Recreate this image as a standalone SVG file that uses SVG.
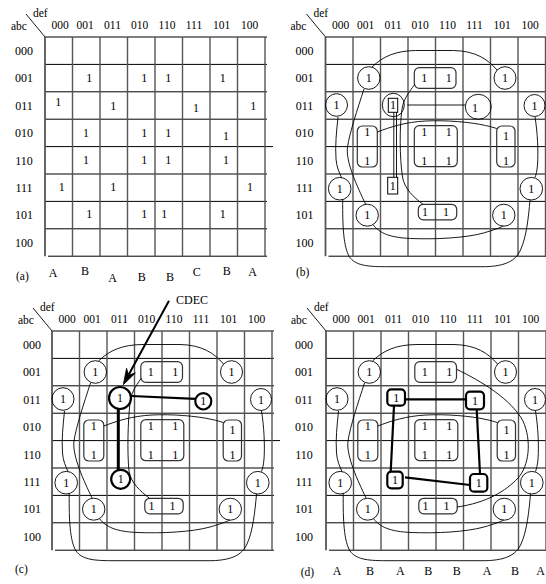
<svg xmlns="http://www.w3.org/2000/svg" xmlns:xlink="http://www.w3.org/1999/xlink" width="546" height="584" viewBox="0 0 546 584">
<style>
text{font-family:"Liberation Serif","Times New Roman",serif;fill:#000}
.t{font-size:11.5px}
.hd{font-size:11.5px;text-anchor:middle}
.rl{font-size:12px;text-anchor:middle}
.o{font-size:12px;text-anchor:middle}
.lt{font-size:12px;text-anchor:middle}
.hl{stroke:#000;stroke-width:1}
.vl{stroke:#555;stroke-width:1.4}
.th{fill:none;stroke:#000;stroke-width:0.9}
.rr{fill:none;stroke:#333;stroke-width:1.2}
.sq{fill:none;stroke:#000;stroke-width:1}
.bd{fill:none;stroke:#000;stroke-width:2.2}
</style>
<defs>
<g id="grid">
<line class="hl" x1="0" y1="0" x2="222" y2="0"/>
<line class="hl" x1="0" y1="27.4" x2="222" y2="27.4"/>
<line class="hl" x1="0" y1="54.8" x2="222" y2="54.8"/>
<line class="hl" x1="0" y1="82.2" x2="222" y2="82.2"/>
<line class="hl" x1="0" y1="109.6" x2="228" y2="109.6"/>
<line class="hl" x1="0" y1="137" x2="222" y2="137"/>
<line class="hl" x1="0" y1="164.4" x2="222" y2="164.4"/>
<line class="hl" x1="0" y1="191.8" x2="222" y2="191.8"/>
<line class="hl" x1="3" y1="219.2" x2="222" y2="219.2"/>
<line class="vl" x1="0" y1="0" x2="0" y2="219.2" style="stroke-width:1.8"/>
<line class="vl" x1="27.5" y1="0" x2="27.5" y2="219.2"/>
<line class="vl" x1="55" y1="0" x2="55" y2="219.2"/>
<line class="vl" x1="82.5" y1="0" x2="82.5" y2="219.2"/>
<line class="vl" x1="110" y1="0" x2="110" y2="219.2"/>
<line class="vl" x1="137.5" y1="0" x2="137.5" y2="219.2"/>
<line class="vl" x1="165" y1="0" x2="165" y2="219.2"/>
<line class="vl" x1="192.5" y1="0" x2="192.5" y2="219.2"/>
<line class="vl" x1="220" y1="0" x2="220" y2="219.2"/>
<line class="th" x1="-19" y1="-23" x2="0" y2="0"/>
</g>
<g id="common">
<ellipse class="th" cx="43.3" cy="41" rx="11.2" ry="11.3"/>
<ellipse class="th" cx="179.5" cy="41" rx="11" ry="11.3"/>
<ellipse class="th" cx="11" cy="68" rx="11" ry="11.3"/>
<ellipse class="th" cx="209" cy="68.5" rx="10.5" ry="11"/>
<ellipse class="th" cx="14.2" cy="151.7" rx="11.3" ry="11.3"/>
<ellipse class="th" cx="205.8" cy="151.7" rx="11.3" ry="11.3"/>
<ellipse class="th" cx="41.7" cy="178.2" rx="11.2" ry="11"/>
<ellipse class="th" cx="178.3" cy="178.2" rx="11.2" ry="11"/>
<rect class="rr" x="88.8" y="30.7" width="41.7" height="20.6" rx="5"/>
<rect class="rr" x="31.8" y="89" width="20" height="41" rx="5"/>
<rect class="rr" x="88.8" y="88.7" width="43" height="41" rx="5"/>
<rect class="rr" x="171.2" y="89" width="18.3" height="41" rx="5"/>
<rect class="rr" x="92.8" y="167.3" width="38.4" height="15.5" rx="5"/>
<path class="th" d="M46.5,30 C58,19 70,14 90,13.5 L128,13.5 C150,14 162,22 171.5,33"/>
<path class="th" d="M38.5,52 C32,72 24,96 22,110 C20,125 32,150 40,167"/>
<path class="th" d="M12.5,80 C11,95 9.5,108 10.5,122 C11,130 14,136 16,140.5"/>
<path class="th" d="M209.5,80 C212,95 213,115 212,128 C211.5,134 210.5,138 209.5,140.5"/>
<path class="th" d="M17.2,162.5 C17,190 18,210 24,220 C30,228 40,229.7 60,229.7 L160,229.7 C180,229 190,224 195,213 C201,200 203,180 204.5,163"/>
<path class="th" d="M47.8,188 C54,196 64,200.5 85,201.5 C110,202.5 140,201 158,196 C168,193 174,191 177.8,189"/>
<path class="th" d="M51.8,95 C65,90 80,85 100,84 C120,83 145,85 160,88.5 C165,89.5 168,90.5 171.2,91.5"/>
</g>
</defs>

<!-- Panel (a) -->
<g id="panel-a" transform="translate(45,37)">
<use xlink:href="#grid"/>
<text class="t" x="-12" y="-20.5">def</text>
<text class="t" x="-34" y="-7">abc</text>
<g class="hdrs">
<text class="hd" x="15" y="-8.5">000</text><text class="hd" x="40" y="-8.5">001</text><text class="hd" x="67.5" y="-8.5">011</text><text class="hd" x="94.5" y="-8.5">010</text><text class="hd" x="122" y="-8.5">110</text><text class="hd" x="149" y="-8.5">111</text><text class="hd" x="176.5" y="-8.5">101</text><text class="hd" x="204.5" y="-8.5">100</text>
</g>
<text class="rl" x="-21" y="17.9">000</text><text class="rl" x="-21" y="45.3">001</text><text class="rl" x="-21" y="72.7">011</text><text class="rl" x="-21" y="100.1">010</text><text class="rl" x="-21" y="127.5">110</text><text class="rl" x="-21" y="154.9">111</text><text class="rl" x="-21" y="182.3">101</text><text class="rl" x="-21" y="209.7">100</text>
<text class="o" x="44.3" y="45.3">1</text><text class="o" x="99.3" y="45.3">1</text><text class="o" x="123.3" y="45.3">1</text><text class="o" x="177.7" y="45.3">1</text>
<text class="o" x="13.3" y="68.7">1</text><text class="o" x="68.3" y="73">1</text><text class="o" x="151" y="75.3">1</text><text class="o" x="208.3" y="73">1</text>
<text class="o" x="41" y="99.7">1</text><text class="o" x="99.3" y="99.7">1</text><text class="o" x="123.3" y="99.7">1</text><text class="o" x="181" y="103">1</text>
<text class="o" x="41" y="127">1</text><text class="o" x="99.3" y="127">1</text><text class="o" x="123.3" y="127">1</text><text class="o" x="181" y="127">1</text>
<text class="o" x="16.7" y="153.7">1</text><text class="o" x="68.3" y="153.7">1</text><text class="o" x="205" y="153.7">1</text>
<text class="o" x="44.3" y="181">1</text><text class="o" x="99.3" y="181">1</text><text class="o" x="119.3" y="181">1</text><text class="o" x="177.7" y="181">1</text>
</g>
<g id="labels-a">
<text class="lt" x="53" y="276.7">A</text><text class="lt" x="85" y="275">B</text><text class="lt" x="112.5" y="281.7">A</text><text class="lt" x="141.7" y="280.5">B</text><text class="lt" x="170" y="280.5">B</text><text class="lt" x="196.7" y="275.7">C</text><text class="lt" x="226.7" y="275">B</text><text class="lt" x="252.5" y="275.7">A</text>
<text class="t" x="16" y="280">(a)</text>
</g>

<!-- Panel (b) -->
<g id="panel-b" transform="translate(325.5,37)">
<use xlink:href="#grid"/>
<text class="t" x="-12" y="-20.5">def</text>
<text class="t" x="-35" y="-7">abc</text>
<text class="hd" x="15" y="-8.5">000</text><text class="hd" x="40" y="-8.5">001</text><text class="hd" x="67.5" y="-8.5">011</text><text class="hd" x="94.5" y="-8.5">010</text><text class="hd" x="122" y="-8.5">110</text><text class="hd" x="149" y="-8.5">111</text><text class="hd" x="176.5" y="-8.5">101</text><text class="hd" x="204.5" y="-8.5">100</text>
<text class="rl" x="-21" y="17.9">000</text><text class="rl" x="-21" y="45.3">001</text><text class="rl" x="-21" y="72.7">011</text><text class="rl" x="-21" y="100.1">010</text><text class="rl" x="-21" y="127.5">110</text><text class="rl" x="-21" y="154.9">111</text><text class="rl" x="-21" y="182.3">101</text><text class="rl" x="-21" y="209.7">100</text>
<use xlink:href="#common"/>
<g id="b-connectors">
<ellipse class="th" cx="67.8" cy="68" rx="11" ry="11.7"/>
<rect class="sq" x="62.8" y="61.3" width="9.4" height="14"/>
<ellipse class="th" cx="152.8" cy="69.8" rx="13" ry="12.5"/>
<rect class="sq" x="62.2" y="140.3" width="10" height="16.7"/>
<line class="th" x1="81.8" y1="68" x2="139.8" y2="68"/>
<line class="th" x1="68.3" y1="75.3" x2="68.3" y2="140.3"/>
<line class="th" x1="71" y1="75.3" x2="71" y2="140.3"/>
<path class="th" d="M89.5,47 C83,56 78,62 76.5,72 C74,90 74,120 77,140 C79,152 88,160 97.5,167.3"/>
</g>
<g class="ones">
<text class="o" x="43.3" y="45">1</text><text class="o" x="179.5" y="45">1</text><text class="o" x="11" y="72">1</text><text class="o" x="209" y="72.5">1</text>
<text class="o" x="14.2" y="155.7">1</text><text class="o" x="205.8" y="155.7">1</text><text class="o" x="41.7" y="182.2">1</text><text class="o" x="178.3" y="182.2">1</text>
<text class="o" x="98.8" y="44.7">1</text><text class="o" x="123.3" y="44.7">1</text>
<text class="o" x="41.8" y="99.3">1</text><text class="o" x="41.8" y="127.5">1</text>
<text class="o" x="98.8" y="99.3">1</text><text class="o" x="123.3" y="99.3">1</text><text class="o" x="98.8" y="128">1</text><text class="o" x="123.3" y="128">1</text>
<text class="o" x="180.5" y="103">1</text><text class="o" x="180.5" y="127.5">1</text>
<text class="o" x="99.5" y="179.3">1</text><text class="o" x="120.5" y="179.3">1</text>
<text class="o" x="67.5" y="72">1</text><text class="o" x="149.5" y="75.3">1</text><text class="o" x="67.2" y="152.7">1</text>
</g>
</g>
<text class="t" x="296" y="276">(b)</text>

<!-- Panel (c) -->
<g id="panel-c" transform="translate(52,331)">
<use xlink:href="#grid"/>
<text class="t" x="-12" y="-20.5">def</text>
<text class="t" x="-34" y="-7">abc</text>
<text class="hd" x="15" y="-8">000</text><text class="hd" x="40" y="-8">001</text><text class="hd" x="67.5" y="-8">011</text><text class="hd" x="94.5" y="-8">010</text><text class="hd" x="122" y="-8">110</text><text class="hd" x="149" y="-8">111</text><text class="hd" x="176.5" y="-8">101</text><text class="hd" x="204.5" y="-8">100</text>
<text class="rl" x="-20" y="17.9">000</text><text class="rl" x="-20" y="45.3">001</text><text class="rl" x="-20" y="72.7">011</text><text class="rl" x="-20" y="100.1">010</text><text class="rl" x="-20" y="127.5">110</text><text class="rl" x="-20" y="154.9">111</text><text class="rl" x="-20" y="182.3">101</text><text class="rl" x="-20" y="209.7">100</text>
<use xlink:href="#common"/>
<g id="c-connectors">
<path class="th" d="M89.5,47 C83,56 79,62 78,72 C76,90 75,120 77,140 C79,152 88,160 97.5,167.3"/>
<ellipse class="bd" cx="68" cy="67" rx="11" ry="11"/>
<ellipse class="bd" cx="151.3" cy="70.3" rx="8" ry="8.2"/>
<ellipse class="bd" cx="68.7" cy="148.3" rx="9.5" ry="9.5"/>
<line class="bd" x1="79.5" y1="65" x2="143.3" y2="67.8"/>
<line class="bd" x1="66.3" y1="78" x2="66.3" y2="139" style="stroke-width:3"/>
</g>
<g class="ones">
<text class="o" x="43.3" y="45">1</text><text class="o" x="179.5" y="45">1</text><text class="o" x="11" y="72">1</text><text class="o" x="209" y="72.5">1</text>
<text class="o" x="14.2" y="155.7">1</text><text class="o" x="205.8" y="155.7">1</text><text class="o" x="41.7" y="182.2">1</text><text class="o" x="178.3" y="182.2">1</text>
<text class="o" x="98.8" y="44.7">1</text><text class="o" x="123.3" y="44.7">1</text>
<text class="o" x="41.8" y="99.3">1</text><text class="o" x="41.8" y="127.5">1</text>
<text class="o" x="98.8" y="99.3">1</text><text class="o" x="123.3" y="99.3">1</text><text class="o" x="98.8" y="128">1</text><text class="o" x="123.3" y="128">1</text>
<text class="o" x="180.5" y="103">1</text><text class="o" x="180.5" y="127.5">1</text>
<text class="o" x="99.5" y="179.3">1</text><text class="o" x="120.5" y="179.3">1</text>
<text class="o" x="68" y="71">1</text><text class="o" x="151.3" y="74.3">1</text><text class="o" x="68.7" y="152.3">1</text>
</g>
</g>
<g id="cdec-arrow">
<line x1="169" y1="300.7" x2="128.8" y2="374.5" stroke="#000" stroke-width="2"/>
<polygon points="123.3,384.7 135.35,373.03 128.56,375.03 126.55,368.25" fill="#000" stroke="#000" stroke-width="0.8" stroke-linejoin="miter"/>
<text x="176" y="304" style="font-size:12px">CDEC</text>
</g>
<text class="t" x="15" y="573">(c)</text>

<!-- Panel (d) -->
<g id="panel-d" transform="translate(326,331)">
<use xlink:href="#grid"/>
<text class="t" x="-12" y="-20.5">def</text>
<text class="t" x="-35" y="-7">abc</text>
<text class="hd" x="15" y="-8">000</text><text class="hd" x="40" y="-8">001</text><text class="hd" x="67.5" y="-8">011</text><text class="hd" x="94.5" y="-8">010</text><text class="hd" x="122" y="-8">110</text><text class="hd" x="149" y="-8">111</text><text class="hd" x="176.5" y="-8">101</text><text class="hd" x="204.5" y="-8">100</text>
<text class="rl" x="-22" y="17.9">000</text><text class="rl" x="-22" y="45.3">001</text><text class="rl" x="-22" y="72.7">011</text><text class="rl" x="-22" y="100.1">010</text><text class="rl" x="-22" y="127.5">110</text><text class="rl" x="-22" y="154.9">111</text><text class="rl" x="-22" y="182.3">101</text><text class="rl" x="-22" y="209.7">100</text>
<use xlink:href="#common"/>
<g id="d-connectors">
<path class="th" d="M131,38.5 C155,50 185,68 197,90 C206,110 203,135 192,147 C180,160 160,172 131,176"/>
<rect class="bd" x="61.3" y="58.3" width="17.7" height="16.4" rx="4"/>
<rect class="bd" x="140" y="60.7" width="18" height="17.6" rx="4"/>
<rect class="bd" x="61.3" y="140.7" width="15.4" height="16.6" rx="4"/>
<rect class="bd" x="144" y="143" width="17.3" height="17.7" rx="4"/>
<line class="bd" x1="79" y1="68.3" x2="140" y2="68.3"/>
<line class="bd" x1="68" y1="74.7" x2="64.7" y2="140.7"/>
<line class="bd" x1="150.7" y1="78.3" x2="154" y2="143"/>
<line class="bd" x1="79" y1="146.3" x2="144" y2="154"/>
</g>
<g class="ones">
<text class="o" x="43.3" y="45">1</text><text class="o" x="179.5" y="45">1</text><text class="o" x="11" y="72">1</text><text class="o" x="209" y="72.5">1</text>
<text class="o" x="14.2" y="155.7">1</text><text class="o" x="205.8" y="155.7">1</text><text class="o" x="41.7" y="182.2">1</text><text class="o" x="178.3" y="182.2">1</text>
<text class="o" x="98.8" y="44.7">1</text><text class="o" x="123.3" y="44.7">1</text>
<text class="o" x="41.8" y="99.3">1</text><text class="o" x="41.8" y="127.5">1</text>
<text class="o" x="98.8" y="99.3">1</text><text class="o" x="123.3" y="99.3">1</text><text class="o" x="98.8" y="128">1</text><text class="o" x="123.3" y="128">1</text>
<text class="o" x="180.5" y="103">1</text><text class="o" x="180.5" y="127.5">1</text>
<text class="o" x="99.5" y="179.3">1</text><text class="o" x="120.5" y="179.3">1</text>
<text class="o" x="70.2" y="70.5">1</text><text class="o" x="149" y="73.5">1</text><text class="o" x="69" y="153">1</text><text class="o" x="152.7" y="155.8">1</text>
</g>
</g>
<g id="labels-d">
<text class="lt" x="337" y="575">A</text><text class="lt" x="370" y="575">B</text><text class="lt" x="400.3" y="575">A</text><text class="lt" x="428.3" y="575">B</text><text class="lt" x="456.7" y="575">B</text><text class="lt" x="487" y="575">A</text><text class="lt" x="515" y="575">B</text><text class="lt" x="540.5" y="575">A</text>
<text class="t" x="300.7" y="576">(d)</text>
</g>
</svg>
